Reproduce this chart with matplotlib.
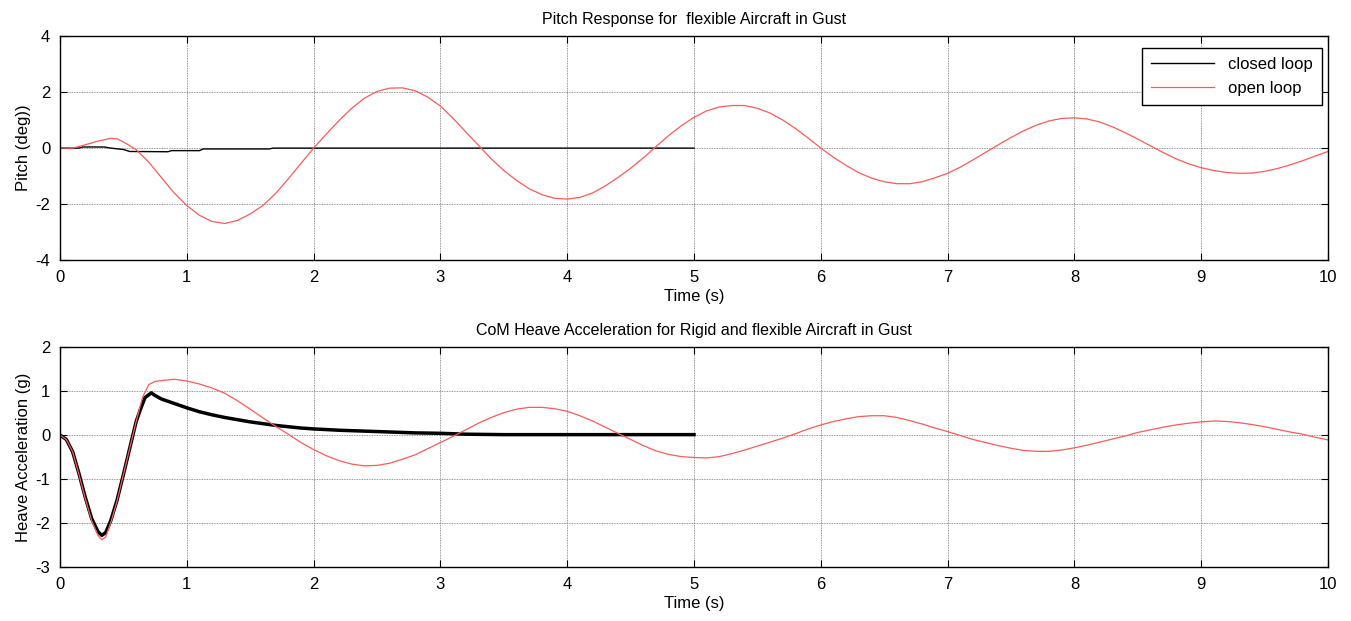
import matplotlib.pyplot as plt

plt.rcParams['font.family'] = ['Liberation Sans', 'DejaVu Sans']
plt.rcParams['axes.unicode_minus'] = False

# --- pitch (top) ---
t_pitch_open = [0, 0.1, 0.2, 0.3, 0.4, 0.45, 0.5, 0.6, 0.7, 0.8, 0.9, 1.0, 1.1, 1.2, 1.3, 1.4, 1.5, 1.6, 1.7, 1.8, 1.9,
                2.0, 2.1, 2.2, 2.3, 2.4, 2.5, 2.6, 2.7, 2.8, 2.9, 3.0, 3.1, 3.2, 3.3, 3.4, 3.5, 3.6, 3.7, 3.8, 3.9,
                4.0, 4.1, 4.2, 4.3, 4.4, 4.5, 4.6, 4.7, 4.8, 4.9, 5.0, 5.1, 5.2, 5.3, 5.4, 5.5, 5.6, 5.7, 5.8, 5.9,
                6.0, 6.1, 6.2, 6.3, 6.4, 6.5, 6.6, 6.7, 6.8, 6.9, 7.0, 7.1, 7.2, 7.3, 7.4, 7.5, 7.6, 7.7, 7.8, 7.9,
                8.0, 8.1, 8.2, 8.3, 8.4, 8.5, 8.6, 8.7, 8.8, 8.9, 9.0, 9.1, 9.2, 9.3, 9.4, 9.5, 9.6, 9.7, 9.8, 9.9, 10.0]
pitch_open = [0, 0.0, 0.12, 0.25, 0.35, 0.33, 0.22, -0.05, -0.5, -1.05, -1.6, -2.05, -2.4, -2.62, -2.69, -2.58, -2.35,
              -2.05, -1.62, -1.1, -0.55, 0.0, 0.5, 0.98, 1.42, 1.78, 2.02, 2.14, 2.15, 2.05, 1.82, 1.5, 1.06, 0.58, 0.1,
              -0.38, -0.8, -1.15, -1.45, -1.66, -1.79, -1.82, -1.76, -1.6, -1.35, -1.05, -0.72, -0.35, 0.05, 0.45, 0.8,
              1.1, 1.33, 1.47, 1.52, 1.52, 1.42, 1.25, 1.0, 0.7, 0.36, 0.0, -0.33, -0.62, -0.88, -1.07, -1.2, -1.27,
              -1.27, -1.2, -1.06, -0.9, -0.68, -0.42, -0.15, 0.12, 0.38, 0.62, 0.82, 0.97, 1.06, 1.08, 1.04, 0.93, 0.76,
              0.55, 0.32, 0.08, -0.16, -0.38, -0.56, -0.7, -0.8, -0.87, -0.9, -0.89, -0.83, -0.73, -0.6, -0.45, -0.28, -0.12]

t_pitch_closed = [0, 0.15, 0.18, 0.35, 0.4, 0.5, 0.55, 0.85, 0.88, 1.1, 1.13, 1.65, 1.68, 5.0]
pitch_closed = [0, 0, 0.04, 0.04, 0.0, -0.05, -0.12, -0.13, -0.09, -0.09, -0.03, -0.03, 0, 0]

# --- heave (bottom) ---
t_heave_open = [0, 0.05, 0.1, 0.15, 0.2, 0.25, 0.3, 0.33, 0.36, 0.4, 0.45, 0.5, 0.55, 0.6, 0.65, 0.7, 0.75, 0.8, 0.9,
                1.0, 1.1, 1.2, 1.3, 1.4, 1.5, 1.6, 1.7, 1.8, 1.9, 2.0, 2.1, 2.2, 2.3, 2.4, 2.5, 2.6, 2.7, 2.8, 2.9,
                3.0, 3.1, 3.2, 3.3, 3.4, 3.5, 3.6, 3.7, 3.8, 3.9, 4.0, 4.1, 4.2, 4.3, 4.4, 4.5, 4.6, 4.7, 4.8, 4.9,
                5.0, 5.1, 5.2, 5.3, 5.4, 5.5, 5.6, 5.7, 5.8, 5.9, 6.0, 6.1, 6.2, 6.3, 6.4, 6.5, 6.6, 6.7, 6.8, 6.9,
                7.0, 7.1, 7.2, 7.3, 7.4, 7.5, 7.6, 7.7, 7.8, 7.9, 8.0, 8.1, 8.2, 8.3, 8.4, 8.5, 8.6, 8.7, 8.8, 8.9,
                9.0, 9.1, 9.2, 9.3, 9.4, 9.5, 9.6, 9.7, 9.8, 9.9, 10.0]
heave_open = [0, -0.1, -0.38, -0.9, -1.45, -1.95, -2.28, -2.38, -2.32, -2.0, -1.5, -0.9, -0.3, 0.3, 0.85, 1.15, 1.22,
              1.24, 1.27, 1.23, 1.16, 1.07, 0.95, 0.78, 0.59, 0.39, 0.2, 0.02, -0.17, -0.33, -0.47, -0.58, -0.66, -0.7,
              -0.69, -0.64, -0.55, -0.45, -0.31, -0.17, -0.03, 0.12, 0.27, 0.4, 0.51, 0.59, 0.63, 0.63, 0.6, 0.54, 0.44,
              0.32, 0.18, 0.04, -0.1, -0.24, -0.36, -0.44, -0.49, -0.51, -0.52, -0.49, -0.42, -0.34, -0.25, -0.16, -0.07,
              0.03, 0.14, 0.23, 0.31, 0.37, 0.42, 0.44, 0.44, 0.4, 0.33, 0.25, 0.16, 0.08, -0.01, -0.1, -0.17, -0.24,
              -0.3, -0.35, -0.37, -0.37, -0.34, -0.29, -0.23, -0.16, -0.09, -0.02, 0.06, 0.12, 0.18, 0.23, 0.27, 0.3,
              0.32, 0.31, 0.28, 0.24, 0.19, 0.13, 0.07, 0.02, -0.05, -0.11]

t_heave_closed = [0, 0.05, 0.1, 0.15, 0.2, 0.25, 0.3, 0.33, 0.36, 0.4, 0.45, 0.5, 0.55, 0.6, 0.63, 0.65, 0.67, 0.72,
                  0.75, 0.8, 0.9, 1.0, 1.1, 1.2, 1.3, 1.4, 1.5, 1.6, 1.7, 1.8, 1.9, 2.0, 2.2, 2.4, 2.6, 2.8, 3.0, 3.2,
                  3.5, 4.0, 5.0]
heave_closed = [0, -0.1, -0.38, -0.88, -1.42, -1.9, -2.2, -2.28, -2.22, -1.95, -1.48, -0.9, -0.3, 0.3, 0.55, 0.7, 0.85,
                0.96, 0.9, 0.82, 0.72, 0.62, 0.53, 0.46, 0.4, 0.35, 0.3, 0.26, 0.22, 0.19, 0.16, 0.14, 0.11, 0.09, 0.07,
                0.05, 0.04, 0.02, 0.01, 0.01, 0.01]

RED = '#ff5a5a'

fig = plt.figure(figsize=(13.51, 6.21), dpi=100)
ax1 = fig.add_axes([0.0444, 0.581, 0.9386, 0.361])
ax2 = fig.add_axes([0.0444, 0.087, 0.9386, 0.354])


def matlab_style(ax):
    ax.grid(True, color='0.45', linestyle=(0, (1, 1)), linewidth=0.6)
    ax.tick_params(direction='in', top=True, right=True, length=5, labelsize=12, width=0.8, pad=7)
    for s in ax.spines.values():
        s.set_linewidth(1.0)
    ax.set_xlim(0, 10)
    ax.set_xticks(range(0, 11))


ax1.plot(t_pitch_closed, pitch_closed, color='black', linewidth=1.0, label='closed loop')
ax1.plot(t_pitch_open, pitch_open, color=RED, linewidth=0.9, label='open loop')
matlab_style(ax1)
ax1.set_ylim(-4, 4)
ax1.set_yticks([-4, -2, 0, 2, 4])
ax1.set_title('Pitch Response for  flexible Aircraft in Gust', fontsize=11.5, pad=9)
ax1.set_xlabel('Time (s)', fontsize=12, labelpad=3)
ax1.set_ylabel('Pitch (deg))', fontsize=12, labelpad=3)
leg = ax1.legend(loc='upper right', bbox_to_anchor=(0.995, 0.946), borderaxespad=0, fontsize=12, fancybox=False,
                 edgecolor='black', framealpha=1, handlelength=3.8, borderpad=0.55, labelspacing=0.5)
leg.get_frame().set_linewidth(1.0)

ax2.plot(t_heave_closed, heave_closed, color='black', linewidth=2.5)
ax2.plot(t_heave_open, heave_open, color=RED, linewidth=0.9)
matlab_style(ax2)
ax2.set_ylim(-3, 2)
ax2.set_yticks([-3, -2, -1, 0, 1, 2])
ax2.set_title('CoM Heave Acceleration for Rigid and flexible Aircraft in Gust', fontsize=11.5, pad=9)
ax2.set_xlabel('Time (s)', fontsize=12, labelpad=3)
ax2.set_ylabel('Heave Acceleration (g)', fontsize=12, labelpad=3)

plt.savefig('out.png', dpi=100)
